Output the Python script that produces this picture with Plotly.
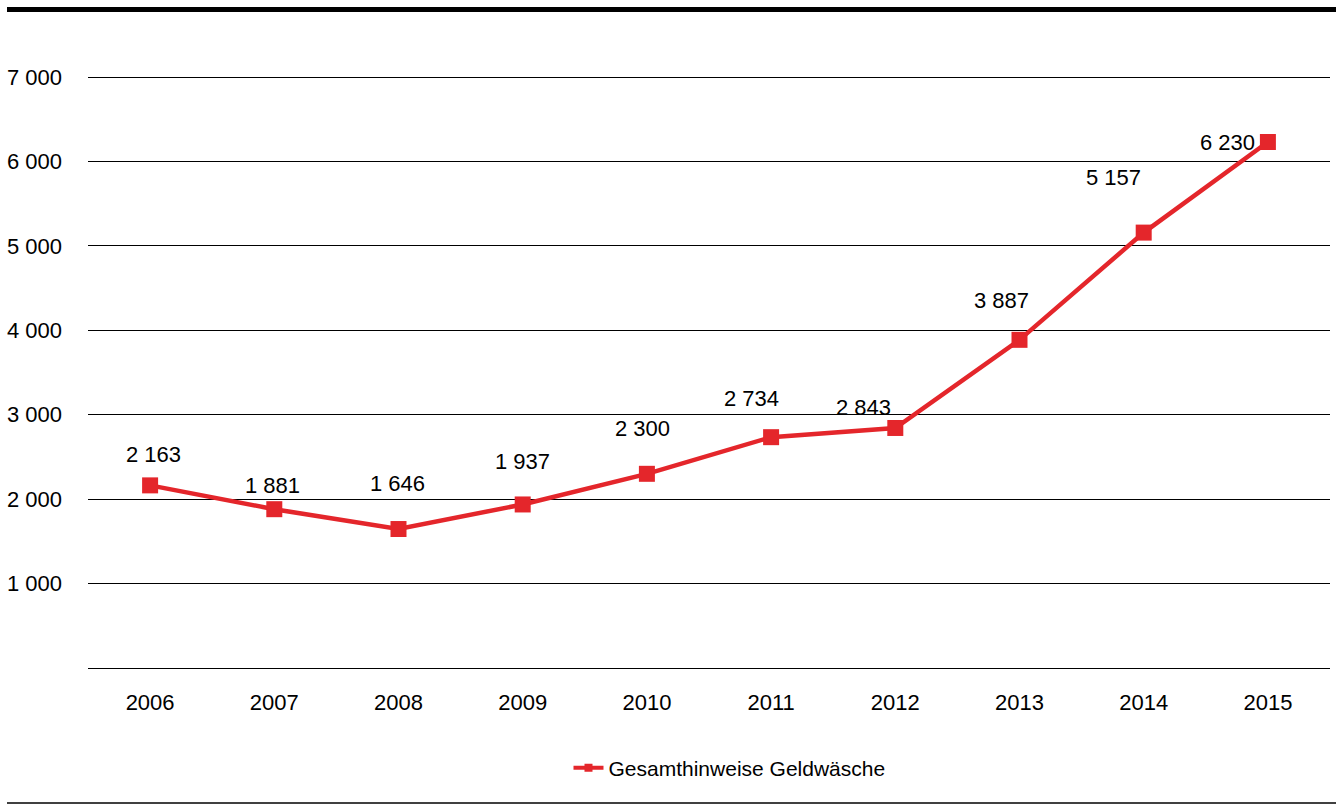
import plotly.graph_objects as go

years = ["2006", "2007", "2008", "2009", "2010", "2011", "2012", "2013", "2014", "2015"]
values = [2163, 1881, 1646, 1937, 2300, 2734, 2843, 3887, 5157, 6230]
value_labels = ["2 163", "1 881", "1 646", "1 937", "2 300", "2 734", "2 843", "3 887", "5 157", "6 230"]
series_name = "Gesamthinweise Geldwäsche"
y_ticks = [1000, 2000, 3000, 4000, 5000, 6000, 7000]
y_tick_text = ["1 000", "2 000", "3 000", "4 000", "5 000", "6 000", "7 000"]

# label placement (pixel offsets from each marker), styling only
label_dx = [3, -2, -1, 0, -4, -20, -32, -18, -30, -40]
label_dy = [31, 24, 46, 43, 45, 39, 20, 39, 55, 0]

RED = "#E4262B"
FONT = "Liberation Sans, Arial, sans-serif"

W, H = 1336, 805
ML, MR, MT, MB = 88, 6, 73, 137
pw = W - ML - MR
ph = H - MT - MB
Y_MAX = 7000 * ph / 591.0

fig = go.Figure()
fig.add_trace(go.Scatter(
    x=years, y=values, mode="lines+markers",
    line=dict(color=RED, width=4.5),
    marker=dict(symbol="square", size=16, color=RED),
    showlegend=False, hoverinfo="x+y",
))
# legend entry with smaller marker
fig.add_trace(go.Scatter(
    x=[None], y=[None], mode="lines+markers", name=series_name,
    line=dict(color=RED, width=4),
    marker=dict(symbol="square", size=8, color=RED),
))

for i, (v, t, dx, dy) in enumerate(zip(values, value_labels, label_dx, label_dy)):
    fig.add_annotation(x=i, y=v, xref="x", yref="y", text=t, showarrow=False,
                       xshift=dx, yshift=dy,
                       font=dict(family=FONT, size=22, color="black"))

def px_to_paper_y(py):
    return (H - MB - py) / ph

def px_to_paper_x(px):
    return (px - ML) / pw

fig.add_shape(type="line", xref="paper", yref="paper",
              x0=px_to_paper_x(7), x1=px_to_paper_x(W + 5),
              y0=px_to_paper_y(9.5), y1=px_to_paper_y(9.5),
              line=dict(color="black", width=5))
fig.add_shape(type="line", xref="paper", yref="paper",
              x0=px_to_paper_x(7), x1=px_to_paper_x(W + 5),
              y0=px_to_paper_y(803), y1=px_to_paper_y(803),
              line=dict(color="black", width=1.5))

fig.update_layout(
    width=W, height=H,
    margin=dict(l=ML, r=MR, t=MT, b=MB, pad=0),
    paper_bgcolor="white", plot_bgcolor="white",
    font=dict(family=FONT, size=22, color="black"),
    showlegend=True,
    legend=dict(orientation="h", x=0.5165, xanchor="center",
                y=px_to_paper_y(768), yanchor="middle",
                font=dict(family=FONT, size=21, color="black"),
                bgcolor="rgba(0,0,0,0)"),
    xaxis=dict(type="category", range=[-0.5, 9.5], showgrid=False,
               showline=True, linecolor="black", linewidth=1.4,
               ticks="", ticklabelstandoff=14, zeroline=False,
               tickfont=dict(family=FONT, size=22, color="black"),
               fixedrange=True),
    yaxis=dict(range=[0, Y_MAX], tickvals=y_ticks, ticktext=y_tick_text,
               showgrid=True, gridcolor="black", gridwidth=1.4,
               zeroline=False, showline=False, ticks="",
               ticklabelstandoff=25,
               tickfont=dict(family=FONT, size=22, color="black"),
               fixedrange=True),
)

fig.write_html("out.html", config={"displayModeBar": False},
               post_script="document.body.style.margin='0';")
